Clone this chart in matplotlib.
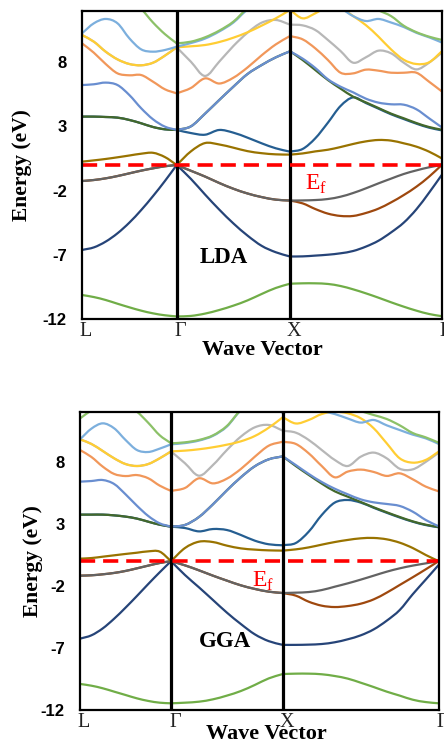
import numpy as np
import matplotlib
matplotlib.use("Agg")
import matplotlib.pyplot as plt
from matplotlib.path import Path
from matplotlib.patches import PathPatch
from matplotlib.transforms import ScaledTranslation

# high-symmetry points (distance along the path, Gamma-X = 1)
K_LABELS = ["L", "Γ", "X", "Γ"]
K_NODES_LDA = [0.0, 0.836, 1.836, 3.175]
K_NODES_GGA = [0.0, 0.815, 1.815, 3.211]
SEG_POINTS = [9, 9, 13]  # samples read per segment, ends included

BAND_COLORS = ["#70AD47", "#264478", "#9E480E", "#636363", "#997300", "#255E91",
               "#43682B", "#698ED0", "#F1975A", "#B7B7B7", "#FFCD33", "#7CAFDD", "#8CC168"]

# energies (eV): L..G (9), G..X (8), X..G (12)
LDA_B01 = [-10.13, -10.29, -10.52, -10.81, -11.09, -11.35, -11.56, -11.71, -11.80,
           -11.76, -11.58, -11.30, -10.96, -10.55, -10.05, -9.58, -9.25,
           -9.22, -9.22, -9.27, -9.43, -9.69, -10.00, -10.34, -10.70, -11.04, -11.35, -11.61, -11.78]
LDA_B02 = [-6.62, -6.42, -5.97, -5.32, -4.49, -3.51, -2.42, -1.25, 0.00,
           -1.08, -2.30, -3.47, -4.55, -5.50, -6.30, -6.80, -7.13,
           -7.12, -7.06, -6.99, -6.88, -6.70, -6.36, -5.90, -5.25, -4.49, -3.45, -2.16, -0.78]
LDA_B03 = [-1.25, -1.17, -1.04, -0.86, -0.65, -0.44, -0.26, -0.10, 0.00,
           -0.45, -0.90, -1.40, -1.85, -2.22, -2.50, -2.70, -2.77,
           -2.99, -3.43, -3.79, -3.97, -3.97, -3.74, -3.40, -2.91, -2.34, -1.69, -0.91, 0.00]
LDA_B04 = [-1.25, -1.17, -1.04, -0.86, -0.65, -0.44, -0.26, -0.10, 0.00,
           -0.45, -0.90, -1.40, -1.85, -2.22, -2.50, -2.70, -2.77,
           -2.76, -2.73, -2.65, -2.47, -2.18, -1.82, -1.43, -1.06, -0.70, -0.42, -0.18, 0.00]
LDA_B05 = [0.26, 0.36, 0.47, 0.60, 0.74, 0.88, 0.95, 0.62, 0.00,
           1.06, 1.71, 1.60, 1.35, 1.08, 0.92, 0.83, 0.81,
           0.90, 1.06, 1.19, 1.40, 1.64, 1.84, 1.95, 1.90, 1.69, 1.43, 1.04, 0.52]
LDA_B06 = [3.77, 3.77, 3.74, 3.69, 3.51, 3.25, 2.96, 2.78, 2.73,
           2.49, 2.36, 2.73, 2.52, 2.13, 1.69, 1.30, 1.04,
           1.25, 2.08, 3.30, 4.60, 5.27, 4.83, 4.39, 3.95, 3.58, 3.22, 2.91, 2.70]
LDA_B07 = [3.77, 3.77, 3.74, 3.69, 3.51, 3.25, 2.96, 2.78, 2.73,
           3.01, 4.00, 5.06, 6.10, 7.09, 7.79, 8.39, 8.86,
           8.18, 7.40, 6.62, 5.95, 5.32, 4.88, 4.44, 4.00, 3.64, 3.27, 2.96, 2.75]
LDA_B08 = [6.23, 6.29, 6.42, 6.23, 5.45, 4.42, 3.56, 2.99, 2.73,
           3.01, 4.00, 5.06, 6.10, 7.09, 7.79, 8.39, 8.86,
           8.29, 7.56, 6.68, 6.10, 5.66, 5.17, 4.86, 4.73, 4.70, 4.34, 3.64, 2.94]
LDA_B09 = [9.48, 8.75, 7.87, 7.14, 6.99, 7.01, 6.49, 5.90, 5.58,
           6.00, 6.75, 6.35, 6.80, 7.60, 8.55, 9.40, 10.05,
           9.79, 9.09, 8.18, 7.19, 7.14, 7.43, 7.35, 7.19, 7.19, 7.19, 6.49, 5.74]
LDA_B10 = [10.13, 9.61, 8.83, 8.23, 7.87, 7.77, 7.97, 8.52, 9.17,
           8.05, 6.94, 8.05, 9.27, 10.31, 11.09, 11.30, 10.94,
           10.88, 10.52, 9.74, 8.88, 7.97, 8.39, 8.91, 8.70, 7.97, 7.45, 7.97, 8.75]
LDA_B11 = [10.13, 9.61, 8.83, 8.23, 7.87, 7.77, 7.97, 8.52, 9.17,
           9.25, 9.35, 9.58, 9.92, 10.34, 10.86, 11.43, 12.08,
           11.43, 11.82, 12.34, 12.25, 11.60, 10.90, 10.00, 9.00, 8.20, 7.87, 8.00, 8.85]
LDA_B12 = [10.26, 11.04, 11.38, 11.04, 9.87, 9.01, 8.83, 8.96, 9.22,
           9.50, 9.85, 10.40, 11.10, 12.10, 12.50, 12.40, 12.05,
           12.30, 12.50, 12.50, 12.20, 11.60, 11.22, 11.38, 11.10, 10.75, 10.30, 9.95, 9.55]
LDA_B13 = [11.95, 12.40, 12.80, 13.00, 12.80, 12.15, 11.10, 10.20, 9.48,
           9.61, 9.95, 10.47, 11.17, 12.21, 12.86, 13.10, 13.30,
           13.30, 13.30, 13.30, 13.20, 13.00, 12.50, 12.05, 11.60, 10.85, 10.35, 10.00, 9.75]

GGA_B01 = [-9.90, -10.04, -10.25, -10.52, -10.79, -11.06, -11.27, -11.41, -11.46,
           -11.41, -11.33, -11.14, -10.84, -10.47, -9.98, -9.45, -9.10,
           -9.07, -9.07, -9.12, -9.26, -9.47, -9.80, -10.15, -10.52, -10.84, -11.17, -11.36, -11.46]
GGA_B02 = [-6.25, -5.98, -5.42, -4.64, -3.75, -2.81, -1.84, -0.90, 0.00,
           -1.12, -2.11, -3.13, -4.15, -5.07, -5.90, -6.45, -6.75,
           -6.75, -6.73, -6.68, -6.54, -6.30, -5.98, -5.50, -4.80, -3.94, -2.67, -1.49, -0.30]
GGA_B03 = [-1.17, -1.14, -1.06, -0.95, -0.79, -0.58, -0.36, -0.15, 0.00,
           -0.34, -0.74, -1.17, -1.57, -1.95, -2.24, -2.46, -2.57,
           -2.78, -3.27, -3.59, -3.70, -3.62, -3.43, -3.08, -2.54, -1.92, -1.30, -0.66, 0.00]
GGA_B04 = [-1.17, -1.14, -1.06, -0.95, -0.79, -0.58, -0.36, -0.15, 0.00,
           -0.34, -0.74, -1.17, -1.57, -1.95, -2.24, -2.46, -2.57,
           -2.54, -2.49, -2.33, -2.06, -1.79, -1.49, -1.17, -0.85, -0.58, -0.36, -0.18, 0.00]
GGA_B05 = [0.20, 0.25, 0.36, 0.47, 0.58, 0.68, 0.79, 0.77, 0.00,
           1.06, 1.57, 1.54, 1.25, 1.03, 0.93, 0.87, 0.85,
           0.95, 1.11, 1.33, 1.54, 1.71, 1.84, 1.87, 1.76, 1.49, 1.06, 0.50, 0.00]
GGA_B06 = [3.75, 3.75, 3.75, 3.69, 3.59, 3.43, 3.18, 2.94, 2.78,
           2.67, 2.40, 2.59, 2.51, 2.11, 1.65, 1.36, 1.28,
           1.46, 2.38, 3.72, 4.72, 4.93, 4.72, 4.30, 3.90, 3.52, 3.18, 2.91, 2.73]
GGA_B07 = [3.75, 3.75, 3.75, 3.69, 3.59, 3.43, 3.18, 2.94, 2.78,
           2.92, 3.56, 4.58, 5.71, 6.76, 7.65, 8.21, 8.45,
           7.67, 6.95, 6.25, 5.63, 5.20, 4.77, 4.34, 3.94, 3.56, 3.21, 2.94, 2.75]
GGA_B08 = [6.41, 6.46, 6.54, 6.22, 5.39, 4.47, 3.64, 3.05, 2.78,
           2.92, 3.56, 4.58, 5.71, 6.76, 7.65, 8.21, 8.45,
           7.75, 7.03, 6.38, 5.84, 5.39, 4.98, 4.74, 4.61, 4.45, 3.99, 3.32, 2.81]
GGA_B09 = [8.96, 8.40, 7.62, 7.03, 6.86, 6.94, 6.68, 6.09, 5.66,
           5.90, 6.68, 6.27, 6.65, 7.43, 8.42, 9.31, 9.63,
           9.45, 8.69, 7.67, 6.76, 7.22, 7.38, 7.19, 6.87, 7.08, 6.60, 6.01, 5.63]
GGA_B10 = [9.82, 9.45, 8.88, 8.29, 7.83, 7.67, 7.83, 8.29, 8.85,
           7.89, 6.89, 7.75, 8.96, 10.04, 10.79, 10.98, 10.52,
           10.36, 9.77, 8.96, 8.16, 7.67, 8.42, 8.75, 8.29, 7.45, 7.40, 8.00, 8.75]
GGA_B11 = [9.82, 9.45, 8.88, 8.29, 7.83, 7.67, 7.83, 8.29, 8.85,
           8.91, 9.02, 9.18, 9.39, 9.66, 10.09, 10.76, 11.60,
           11.10, 11.38, 11.86, 12.05, 11.92, 11.52, 10.71, 9.50, 8.29, 7.94, 8.16, 8.83]
GGA_B12 = [9.82, 10.68, 11.11, 10.71, 9.77, 8.96, 8.80, 9.07, 9.42,
           9.52, 9.72, 10.10, 10.85, 12.15, 12.60, 12.60, 11.95,
           12.25, 12.30, 12.10, 11.86, 11.50, 11.17, 11.38, 10.95, 10.57, 10.20, 9.90, 9.45]
GGA_B13 = [11.50, 12.15, 12.60, 12.80, 12.60, 12.05, 11.15, 10.15, 9.50,
           9.58, 9.77, 10.14, 10.90, 12.19, 13.00, 13.30, 13.40,
           13.40, 13.30, 13.10, 12.80, 12.45, 12.10, 11.78, 11.46, 10.95, 10.33, 9.98, 9.55]

LDA_BANDS = [LDA_B01, LDA_B02, LDA_B03, LDA_B04, LDA_B05, LDA_B06, LDA_B07,
             LDA_B08, LDA_B09, LDA_B10, LDA_B11, LDA_B12, LDA_B13]
GGA_BANDS = [GGA_B01, GGA_B02, GGA_B03, GGA_B04, GGA_B05, GGA_B06, GGA_B07,
             GGA_B08, GGA_B09, GGA_B10, GGA_B11, GGA_B12, GGA_B13]

SERIF = "Liberation Serif"
SANS = "Liberation Sans"


def k_axis(nodes):
    parts = []
    for i, n in enumerate(SEG_POINTS):
        seg = np.linspace(nodes[i], nodes[i + 1], n)
        parts.append(seg if i == 0 else seg[1:])
    return np.concatenate(parts)


def band_path(k, e):
    # smooth curve through the read points, one piece per segment
    pts = np.column_stack([k, e])
    verts = [pts[0]]
    codes = [Path.MOVETO]
    start = 0
    for n in SEG_POINTS:
        p = pts[start:start + n]
        m = np.gradient(p, axis=0)
        for i in range(n - 1):
            verts += [p[i] + m[i] / 3, p[i + 1] - m[i + 1] / 3, p[i + 1]]
            codes += [Path.CURVE4] * 3
        start += n - 1
    return Path(verts, codes)


def draw_panel(ax, nodes, bands, name, name_xy, ef_xy):
    k = k_axis(nodes)
    for i, (band, col) in enumerate(zip(bands, BAND_COLORS)):
        ax.add_patch(PathPatch(band_path(k, band), fill=False, edgecolor=col,
                               lw=1.6, capstyle="round", joinstyle="round", zorder=2 + i * 0.01))
    for kx in nodes[1:3]:
        ax.axvline(kx, color="black", lw=2.3, zorder=5)
    ax.axhline(0, color="#FF0000", lw=2.6, dashes=(4.2, 2.2), zorder=6)
    ax.set_xlim(nodes[0], nodes[-1])
    ax.set_ylim(-12, 12)
    ax.set_yticks([8, 3, -2, -7, -12])
    ax.set_yticklabels(["8", "3", "-2", "-7", "-12"], fontfamily=SANS,
                       fontweight="bold", fontsize=12)
    ax.set_xticks(nodes)
    ax.set_xticklabels(K_LABELS, fontfamily=SERIF, fontsize=14.5, color="#222222")
    ax.tick_params(axis="y", length=0, pad=11)
    ax.tick_params(axis="x", length=0, pad=2)
    shift = ScaledTranslation(4 / 100, 0, ax.figure.dpi_scale_trans)
    for lab in ax.get_xticklabels():
        lab.set_transform(lab.get_transform() + shift)
    for sp in ax.spines.values():
        sp.set_linewidth(1.6)
        sp.set_color("black")
        sp.set_zorder(7)
    ax.text(name_xy[0], name_xy[1], name, fontfamily=SERIF, fontweight="bold",
            fontsize=16.5, ha="center", va="center", zorder=8)
    ax.text(ef_xy[0], ef_xy[1], "E$_{\\mathregular{f}}$", fontfamily=SERIF, fontsize=17,
            color="#FF0000", ha="center", va="center", zorder=8)


fig = plt.figure(figsize=(4.44, 7.44), dpi=100)
ax_top = fig.add_axes([82 / 444, 1 - 319 / 744, (441.7 - 82) / 444, 308 / 744])
ax_bot = fig.add_axes([80 / 444, 1 - 710 / 744, (438.7 - 80) / 444, 297.7 / 744])

draw_panel(ax_top, K_NODES_LDA, LDA_BANDS, "LDA", (1.253, -7.17), (2.07, -1.5))
draw_panel(ax_bot, K_NODES_GGA, GGA_BANDS, "GGA", (1.298, -6.5), (1.64, -1.65))

fig.text(22 / 444, 1 - 165 / 744, "Energy (eV)", rotation=90, fontfamily=SERIF,
         fontweight="bold", fontsize=15.5, ha="center", va="center")
fig.text(33 / 444, 1 - 561 / 744, "Energy (eV)", rotation=90, fontfamily=SERIF,
         fontweight="bold", fontsize=15.5, ha="center", va="center")
fig.text(262 / 444, 1 - 355 / 744, "Wave Vector", fontfamily=SERIF,
         fontweight="bold", fontsize=16, ha="center", va="baseline")
fig.text(266 / 444, 1 - 739 / 744, "Wave Vector", fontfamily=SERIF,
         fontweight="bold", fontsize=16, ha="center", va="baseline")

fig.savefig("out.png", dpi=100)
